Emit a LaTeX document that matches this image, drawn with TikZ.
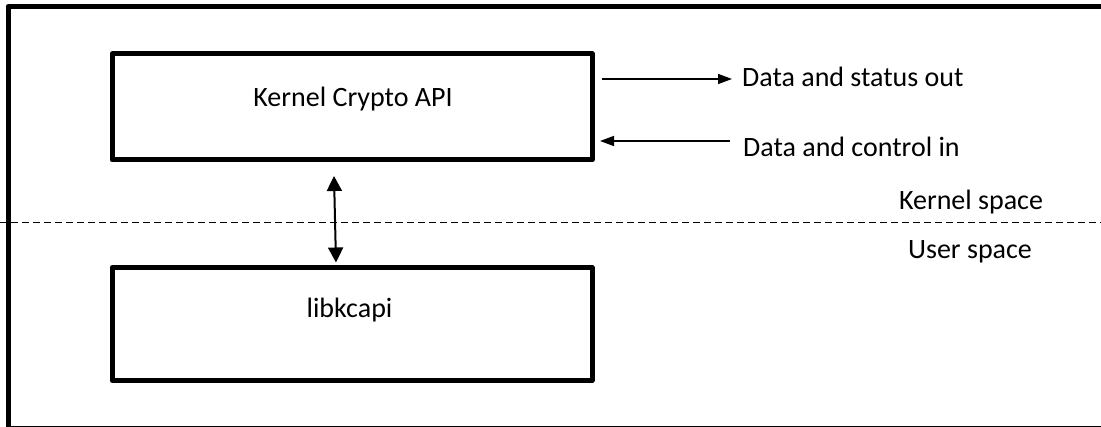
\documentclass[tikz,border=0pt]{standalone}
\usepackage{fontspec}
\setmainfont{Carlito}
\usetikzlibrary{arrows.meta}
\tikzset{
  blk/.style={draw=black, line width=5pt, line join=round, inner sep=0pt, anchor=north west},
  lbl/.style={inner sep=0pt, font=\fontsize{28}{33}\selectfont},
  flow/.style={line width=1.5pt, -{Triangle[width=10pt,length=14pt]}},
  duplex/.style={line width=2pt, {Triangle[width=15pt,length=15pt]}-{Triangle[width=15pt,length=15pt]}},
  sep/.style={line width=1.5pt, dash pattern=on 7pt off 4pt}
}
\begin{document}
\begin{tikzpicture}[x=1pt,y=-1pt]
\useasboundingbox (0,0) rectangle (1101,427);
\clip (0,0) rectangle (1101,427);
\fill[white] (0,0) rectangle (1101,427);
% outer frame (right side outside the picture)
\draw[line width=5pt, line join=round] (8,6.5) rectangle (1110,428.8);
% boxes
\node[blk, minimum width=480pt, minimum height=106pt] (kca) at (109.5,51.5) {};
\node[blk, minimum width=480pt, minimum height=113pt] (lib) at (109.5,265) {};
% box texts
\node[lbl, anchor=base] (kcat) at (353,107) {Kernel Crypto API};
\node[lbl, anchor=base] (libt) at (349.5,318) {libkcapi};
% separator
\coordinate (sl) at (0,222.5);
\coordinate (sr) at (1101,222.5);
\draw[sep] (sl) -- (sr);
\node[lbl, anchor=base] (ks) at (971,210) {Kernel space};
\node[lbl, anchor=base] (us) at (970,259) {User space};
% side flows
\coordinate (o1) at (602,79);
\coordinate (o2) at (732,79);
\coordinate (i1) at (730,141);
\coordinate (i2) at (600,141);
\draw[flow] (o1) -- (o2);
\draw[flow] (i1) -- (i2);
\node[lbl, anchor=base west] (out) at (742,87) {Data and status out};
\node[lbl, anchor=base west] (in) at (743,157) {Data and control in};
% bidirectional link
\coordinate (ua) at (334,176);
\coordinate (la) at (336,262.5);
\draw[duplex] (ua) -- (la);
\end{tikzpicture}
\end{document}
